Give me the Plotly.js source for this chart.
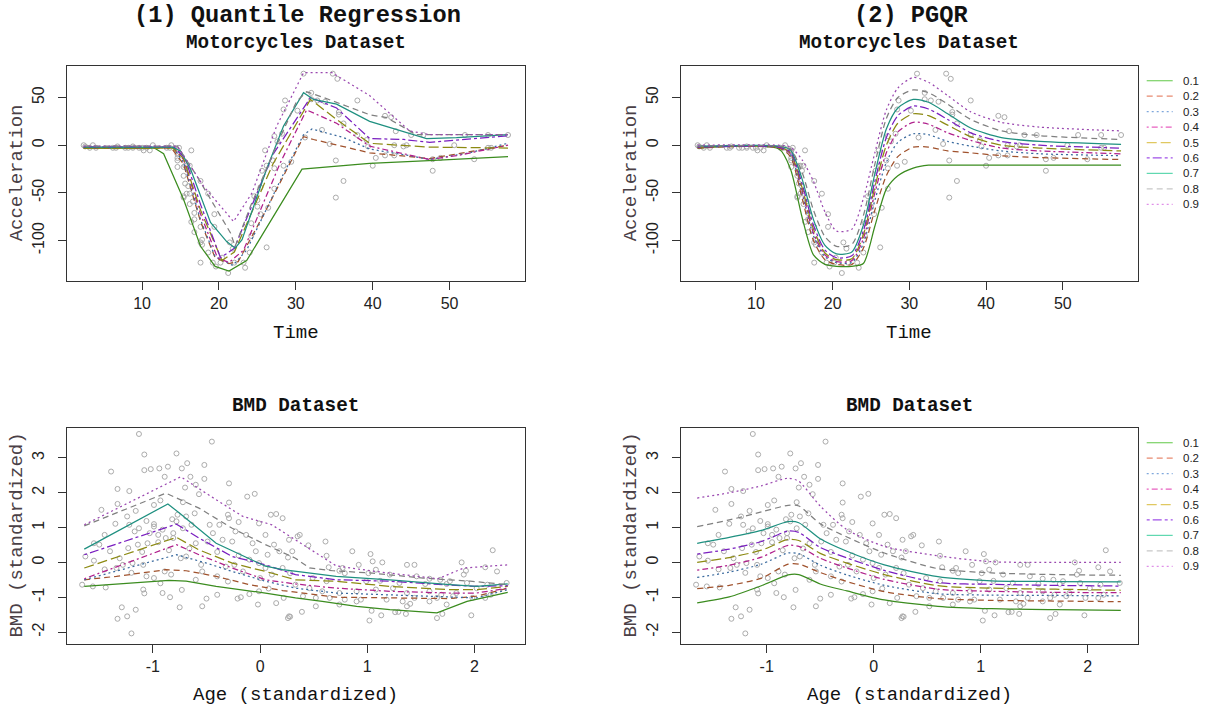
<!DOCTYPE html>
<html><head><meta charset="utf-8">
<script src="https://cdn.plot.ly/plotly-3.0.1.min.js"></script>
<style>html,body{margin:0;padding:0;background:#fff}#chart{width:1212px;height:707px}</style>
</head><body><div id="chart"></div>
<script>
// ---------------- data ----------------
const quantiles = ['0.1','0.2','0.3','0.4','0.5','0.6','0.7','0.8','0.9'];
const lineColors = ['#3b8c1f','#a0522d','#3a6a9e','#b0208c','#8c8a12','#7a1fc0','#1f9080','#808080','#9a48b0'];
const legendColors = ['#7fd36b','#e88a70','#80a8dc','#e860c0','#e0c860','#a050e8','#60d8b0','#c8c8c8','#e090e8'];
const lineDashes = ['solid','6px,4px','2px,3px','2px,3px,6px,3px','10px,4px','3px,3px,9px,3px','solid','6px,4px','2px,3px'];

const mcTime = [2.4,2.6,3.2,3.6,4.0,6.2,6.6,6.8,7.8,8.2,8.8,8.8,9.6,10.0,10.2,10.6,11.0,11.4,13.2,13.6,
13.8,14.6,14.6,14.6,14.6,14.6,14.6,14.8,15.4,15.4,15.4,15.4,15.6,15.6,15.8,15.8,16.0,16.0,16.2,16.2,
16.2,16.4,16.4,16.6,16.8,16.8,16.8,17.6,17.6,17.6,17.6,17.8,17.8,18.6,18.6,19.2,19.4,19.4,19.6,20.2,
20.4,21.2,21.4,21.8,22.0,23.2,23.4,24.0,24.2,24.2,24.6,25.0,25.0,25.4,25.4,25.6,26.0,26.2,26.2,26.4,
27.0,27.2,27.2,27.2,27.6,28.2,28.4,28.4,28.6,29.4,30.2,31.0,31.2,32.0,32.0,32.8,33.4,33.8,34.4,34.8,
35.2,35.2,35.4,35.6,35.6,36.2,36.2,38.0,38.0,39.2,39.4,40.0,40.4,41.6,41.6,42.4,42.8,42.8,43.0,44.0,
44.4,45.0,46.6,47.8,47.8,48.8,50.6,52.0,53.2,55.0,55.0,55.4,57.6];
const mcAccel = [0.0,-1.3,-2.7,0.0,-2.7,-2.7,-2.7,-1.3,-2.7,-2.7,-1.3,-2.7,-2.7,-2.7,-5.4,-2.7,-5.4,0.0,-2.7,-2.7,
0.0,-13.3,-5.4,-5.4,-9.3,-16.0,-22.8,-2.7,-22.8,-32.1,-53.5,-54.9,-40.2,-21.5,-21.5,-50.8,-42.9,-26.8,-21.5,-50.8,
-61.7,-5.4,-80.4,-59.0,-71.0,-91.1,-77.7,-37.5,-85.6,-123.1,-101.9,-99.1,-104.4,-112.5,-50.8,-123.1,-85.6,-72.3,-127.2,-123.1,
-117.9,-134.0,-101.9,-108.4,-123.1,-123.1,-128.5,-112.5,-95.1,-81.8,-53.5,-64.4,-57.6,-72.3,-44.3,-26.8,-5.4,-107.1,-21.5,-65.6,
-16.0,-45.6,-24.2,9.5,4.0,12.0,-21.5,37.5,46.9,-17.4,36.2,75.0,8.1,54.9,48.2,46.9,16.0,45.6,1.3,75.0,
-16.0,-54.9,69.6,34.8,32.1,-37.5,22.8,46.9,10.7,5.4,-1.3,-21.5,-13.3,30.8,-10.7,29.4,0.0,-10.7,14.7,-1.3,
0.0,10.7,10.7,-26.8,-14.7,-13.3,0.0,10.7,-14.7,-2.7,10.7,-2.7,10.7];

const bmdAge = [-1.13,-0.45,-1.08,-0.78,-1.39,-1.08,-1.02,-0.94,-0.86,-0.73,-0.68,-0.52,-0.89,-0.65,-0.52,-1.33,-1.22,-0.70,-0.60,-0.57,
-0.29,-0.12,-0.05,-1.48,-1.33,-0.99,-0.93,-0.72,-0.29,0.10,0.15,0.21,-1.35,-1.24,-1.16,-1.06,-0.99,-0.78,-0.69,-0.29,
-0.20,-0.01,-1.55,-1.45,-1.22,-1.17,-1.13,-1.03,-0.99,-0.81,-0.72,-0.44,-0.38,-0.23,-0.13,0.05,0.13,-1.63,-1.50,-1.40,
-1.31,-1.23,-1.14,-1.05,-0.95,-0.88,-0.81,-0.60,-0.49,-0.35,-0.26,-0.07,-0.04,0.07,0.18,0.26,-1.66,-1.56,-1.44,-1.34,
-1.28,-1.19,-1.09,-1.06,-0.99,-0.89,-0.83,-0.74,-0.69,-0.55,-0.54,-0.40,-0.32,-0.24,-0.16,-0.10,-0.01,0.05,0.11,0.21,
0.28,-1.09,-1.08,-0.91,-0.84,-0.73,-0.50,-0.40,-0.21,-0.18,-0.10,-0.01,0.08,0.22,-1.29,-1.16,-0.75,-0.54,-0.02,0.15,
-1.33,-1.24,-1.20,0.26,0.28,
-0.95,-0.91,-0.82,-0.77,-0.64,-0.61,-0.47,-0.30,-1.10,-0.85,-0.66,-0.40,-0.20,-1.20,-0.60,-0.30,0.00,-1.45,-1.55,-0.93,
0.37,0.35,0.27,0.30,0.45,0.61,0.62,0.86,1.03,1.05,1.14,0.92,1.37,1.44,1.88,2.17,2.21,2.10,1.92,1.90,
0.77,0.74,0.64,0.79,1.01,1.08,1.21,1.46,1.58,1.68,1.77,0.49,0.62,0.99,1.12,1.30,1.54,1.74,1.93,2.02,
2.12,2.30,0.33,0.46,0.58,0.74,0.90,1.08,1.24,1.37,1.58,1.69,1.83,1.98,2.15,0.40,0.52,0.65,0.79,0.94,
1.18,1.33,1.44,1.65,1.80,2.10,0.52,0.74,0.90,1.37,1.40,1.58,1.74,0.27,0.39,1.04,1.13,1.26,1.29,1.36,
1.02,1.65,1.70,1.97];
const bmdValue = [3.69,3.47,3.10,3.13,2.61,2.65,2.68,2.70,2.75,2.70,2.85,2.80,2.46,2.46,2.40,2.11,2.05,2.15,2.23,1.96,
2.27,1.89,1.97,1.51,1.68,1.65,1.78,1.73,1.72,1.37,1.39,1.27,1.11,1.32,1.48,1.19,1.10,1.18,1.32,1.27,
1.16,1.12,0.55,0.79,1.08,0.89,0.98,0.84,1.03,0.84,0.98,0.84,1.08,0.89,0.79,0.79,0.51,0.17,0.51,0.32,
0.12,0.41,0.51,0.55,0.58,0.70,0.70,0.55,0.60,0.65,0.60,0.55,0.32,0.22,0.32,0.14,-0.64,-0.69,-0.72,-0.16,
-0.07,-0.02,-0.07,-0.40,-0.45,-0.26,-0.35,0.12,0.17,-0.07,-0.26,-0.40,-0.12,-0.07,-0.26,0.08,-0.02,-0.16,-0.35,-0.16,
-0.31,-0.78,-0.89,-0.88,-1.00,-0.79,-1.04,-0.93,-1.04,-1.00,-0.91,-0.83,-0.75,-1.02,-1.29,-1.36,-1.29,-1.26,-1.21,-1.17,
-1.62,-1.55,-2.04,-1.60,-1.56,
0.79,0.94,1.24,1.37,1.08,1.41,1.08,1.37,0.30,0.35,0.40,0.30,0.20,-0.30,-0.50,-0.55,-0.45,-0.20,0.05,-0.60,
0.79,0.75,0.65,0.32,0.49,0.60,0.19,0.32,0.24,0.03,0.00,-0.07,-0.07,-0.07,0.00,0.35,-0.26,-0.14,-0.24,-0.35,
-0.16,-0.24,-0.14,-0.31,-0.31,-0.21,-0.35,-0.40,-0.47,-0.50,-0.54,-0.45,-0.54,-0.54,-0.53,-0.59,-0.62,-0.62,-0.59,-0.74,
-0.64,-0.59,-0.64,-0.74,-0.83,-0.88,-0.83,-0.78,-0.74,-0.88,-0.83,-0.93,-0.88,-1.02,-0.93,-0.97,-1.02,-1.02,-1.07,-1.07,
-1.07,-1.12,-1.02,-1.02,-0.97,-1.02,-1.26,-1.21,-1.12,-1.26,-1.19,-1.12,-1.21,-1.55,-1.42,-1.39,-1.52,-1.43,-1.42,-1.48,
-1.67,-1.60,-1.48,-1.52];

// (1) quantile regression fits, motorcycles
const qrMotoX = [
 [2.4,11.6,12.8,15.4,17.6,19.5,21.3,23.6,30.8,39.6,48,57.6],
 [2.4,13.8,15.4,17.6,19.5,21.3,22.5,26,31,32.3,39.6,47.4,57.6],
 [2.4,14,15.4,17.6,19.5,21.8,23.6,28.4,31,32.1,36.2,39.6,44.8,47.4,52.6,57.6],
 [2.4,14,15.4,17.6,19.8,21.3,23.2,28,31.4,35.3,39.6,47.4,50.9,57.6],
 [2.4,14,15.4,17.6,20.4,22,27,31.9,35.3,39.6,47.4,57.6],
 [2.4,14.2,15.6,17.6,20.2,22,27,31.9,35.3,39.6,44,47.4,57.6],
 [2.4,13.9,15,16.3,18.9,21,22.1,23,26.2,28.4,31,32.3,35.3,39.6,47,50.9,57.6],
 [2.4,14.6,17.1,19.7,21.5,22.1,24.1,27.5,30.1,31.4,33.6,39.6,41.8,45.7,57.6],
 [2.4,14.6,16.7,18,21.9,24.3,27.5,31,34.7,39.6,44.8,47.4,57.6]];
const qrMotoY = [
 [-3,-3,-9,-57,-106,-127,-132,-121,-25,-19,-16,-12],
 [-3,-3,-20,-80,-118,-124,-122,-70,9,6,-8,-14,0],
 [-2,-2,-18,-78,-117,-126,-110,-30,11,17,8,-4,-11,-15,-8,2],
 [-2,-2,-15,-72,-118,-123,-110,-18,37,23,-1,-15,-11,0],
 [-3,-3,-14,-68,-121,-112,-20,48,27,2,-2,-3],
 [-2,-2,-14,-62,-118,-108,-10,50,39,7,6,3,10],
 [-2,-2,-6,-25,-81,-101,-108,-99,-25,20,55,48,43,25,7,8,11],
 [-1,-1,-32,-67,-92,-106,-64,0,46,56,50,32,29,11,11],
 [-1,-1,-27,-43,-80,-50,20,76,76,52,15,11,11]];

// (2) PGQR fits, motorcycles
const pgMotoGrid = [2.4,13,14.5,16,17.5,19,20.5,22.5,24,25.5,27,28.5,30.5,32.5,35,38,42,47,57.6];
const pgMotoY = [
 [-3,-4,-25,-75,-115,-125,-127,-127,-124,-85,-46,-32,-24,-21,-21,-21,-21,-21,-21],
 [-3,-3,-12,-55,-100,-120,-125,-125,-108,-68,-32,-12,-2,-2,-6,-8,-11,-13,-15],
 [-2,-2,-10,-50,-95,-117,-123,-123,-103,-58,-18,3,12,11,4,-1,-6,-9,-11],
 [-2,-2,-9,-47,-92,-115,-122,-121,-98,-50,-8,14,24,22,13,5,-3,-6,-9],
 [-2,-2,-8,-44,-88,-113,-120,-119,-94,-44,0,23,33,31,21,9,0,-3,-6],
 [-2,-2,-7,-40,-84,-110,-118,-116,-90,-38,8,31,41,38,27,13,4,0,-3],
 [-1,-1,-5,-35,-78,-105,-114,-112,-84,-30,17,39,48,45,33,18,8,4,1],
 [-1,-1,-4,-28,-68,-96,-106,-104,-74,-20,28,50,58,55,43,27,15,10,6],
 [0,0,-2,-15,-38,-70,-90,-88,-56,-8,37,60,71,66,52,35,24,19,15]];

// (1) quantile regression fits, BMD
const qrBmdX = [
 [-1.64,-1.34,-0.85,-0.69,-0.41,0.05,0.33,0.58,0.9,1.21,1.65,1.93,2.31],
 [-1.64,-1.34,-0.88,-0.69,-0.41,-0.10,0.21,0.71,1.21,1.77,2.02,2.31],
 [-1.64,-0.78,-0.50,-0.26,0.05,0.33,0.71,1.21,1.77,2.02,2.31],
 [-1.64,-0.78,-0.57,-0.26,0.05,0.33,0.71,1.21,1.77,2.02,2.31],
 [-1.64,-0.78,-0.57,-0.26,0.05,0.33,0.71,1.21,1.77,2.02,2.31],
 [-1.64,-0.78,-0.57,-0.26,0.05,0.33,0.71,1.21,1.71,2.02,2.31],
 [-1.64,-0.86,-0.75,-0.41,0.05,0.21,0.71,1.21,1.77,2.02,2.31],
 [-1.64,-0.88,-0.57,-0.26,0.05,0.33,0.46,0.68,1.05,1.52,1.96,2.31],
 [-1.64,-0.74,-0.41,-0.16,0.11,0.33,0.71,1.05,1.37,1.66,1.90,2.31]];
const qrBmdY = [
 [-0.69,-0.62,-0.52,-0.54,-0.69,-0.88,-1.02,-1.12,-1.26,-1.36,-1.45,-1.12,-0.86],
 [-0.50,-0.40,-0.21,-0.24,-0.40,-0.64,-0.81,-1.00,-1.02,-1.04,-0.97,-0.74],
 [-0.50,0.22,-0.02,-0.26,-0.54,-0.74,-0.88,-0.93,-1.00,-1.02,-0.78],
 [-0.47,0.51,0.22,-0.16,-0.50,-0.62,-0.74,-0.83,-0.88,-0.88,-0.74],
 [-0.16,0.72,0.36,-0.02,-0.26,-0.50,-0.54,-0.69,-0.78,-0.78,-0.69],
 [0.22,1.10,0.70,0.17,-0.07,-0.35,-0.50,-0.54,-0.64,-0.69,-0.67],
 [0.38,1.68,1.41,0.55,-0.11,-0.21,-0.40,-0.50,-0.64,-0.69,-0.62],
 [1.05,1.99,1.56,0.98,0.51,0.12,-0.16,-0.24,-0.31,-0.45,-0.54,-0.64],
 [1.08,2.46,1.80,1.32,1.08,0.65,-0.10,-0.25,-0.36,-0.47,-0.16,-0.07]];

// (2) PGQR fits, BMD
const pgBmdGrid = [-1.65,-1.35,-1.05,-0.8,-0.7,-0.5,-0.25,0.1,0.6,1.1,1.7,2.31];
const pgBmdY = [
 [-1.16,-0.99,-0.67,-0.36,-0.35,-0.62,-0.82,-1.08,-1.26,-1.33,-1.36,-1.38],
 [-0.75,-0.66,-0.45,-0.05,-0.05,-0.29,-0.55,-0.84,-1.04,-1.09,-1.11,-1.13],
 [-0.43,-0.28,-0.05,0.27,0.25,-0.08,-0.36,-0.66,-0.90,-0.94,-0.95,-0.96],
 [-0.22,-0.08,0.15,0.49,0.46,0.12,-0.16,-0.49,-0.77,-0.83,-0.86,-0.87],
 [0.0,0.14,0.35,0.66,0.63,0.26,-0.02,-0.35,-0.67,-0.74,-0.77,-0.80],
 [0.24,0.38,0.60,0.90,0.86,0.43,0.13,-0.23,-0.58,-0.63,-0.66,-0.68],
 [0.55,0.72,0.92,1.17,1.14,0.68,0.32,-0.07,-0.41,-0.53,-0.55,-0.56],
 [1.03,1.22,1.45,1.64,1.62,1.11,0.73,0.27,-0.18,-0.30,-0.35,-0.37],
 [1.85,2.00,2.20,2.42,2.33,1.62,0.94,0.46,0.19,0.02,0.0,0.0]];

const motoXTicks = [10,20,30,40,50];
const motoYTicks = [-100,-50,0,50];
const bmdXTicks = [-1,0,1,2];
const bmdYTicks = [-2,-1,0,1,2,3];

// ---------------- layout helpers ----------------
const W = 1212, H = 707;
const PX = v => v / W, PY = v => 1 - v / H;
const MONO = "'Liberation Mono','Courier New',monospace";
const SANS = "'Liberation Sans',Arial,sans-serif";
const colL = [66.7, 525], colR = [680.7, 1138];
const rowT = [65.7, 281], rowB = [427.7, 643.5];

function pointsTrace(x, y, xa, ya) {
  return {type:'scatter', mode:'markers', x:x, y:y, xaxis:xa, yaxis:ya, showlegend:false, hoverinfo:'skip',
    marker:{symbol:'circle-open', size:5, color:'#ababab', line:{width:1, color:'#ababab'}}};
}
function lineTrace(x, y, i, xa, ya, smooth) {
  const ln = {color:lineColors[i], width:1.25, dash:lineDashes[i], shape: smooth ? 'spline' : 'linear'};
  if (smooth) ln.smoothing = 0.7;
  return {type:'scatter', mode:'lines', x:x, y:y, xaxis:xa, yaxis:ya, name:quantiles[i], showlegend:false, line:ln};
}
const traces = [];
traces.push(pointsTrace(mcTime, mcAccel, 'x', 'y'));
quantiles.forEach((q,i) => traces.push(lineTrace(qrMotoX[i], qrMotoY[i], i, 'x', 'y', false)));
traces.push(pointsTrace(mcTime, mcAccel, 'x2', 'y2'));
quantiles.forEach((q,i) => traces.push(lineTrace(pgMotoGrid, pgMotoY[i], i, 'x2', 'y2', true)));
traces.push(pointsTrace(bmdAge, bmdValue, 'x3', 'y3'));
quantiles.forEach((q,i) => traces.push(lineTrace(qrBmdX[i], qrBmdY[i], i, 'x3', 'y3', false)));
traces.push(pointsTrace(bmdAge, bmdValue, 'x4', 'y4'));
quantiles.forEach((q,i) => traces.push(lineTrace(pgBmdGrid, pgBmdY[i], i, 'x4', 'y4', true)));

function axis(range, ticks, dom, anchor, isY) {
  const a = {range:range, domain:dom, anchor:anchor, tickmode:'array', tickvals:ticks, ticktext:ticks.map(String),
    showgrid:false, zeroline:false, showline:true, mirror:true, linecolor:'#333', linewidth:1,
    ticks:'outside', ticklen:8, tickcolor:'#333', tickwidth:1,
    tickfont:{family:SANS, size:16, color:'#222'}, fixedrange:true};
  if (isY) { a.tickangle = -90; a.ticklabelstandoff = 7; }
  return a;
}
const domX = c => [PX(c[0]), PX(c[1])];
const domY = r => [PY(r[1]), PY(r[0])];
const motoXR = [0.192, 59.808], motoYR = [-142.36, 83.36];
const bmdXR = [-1.804, 2.471], bmdYR = [-2.33, 3.87];

const annotations = [];
function ann(text, x, y, size, opts) {
  annotations.push(Object.assign({text:text, x:PX(x), y:PY(y), xref:'paper', yref:'paper', showarrow:false,
    xanchor:'center', yanchor:'middle', font:{family:MONO, size:size, color:'#111'}}, opts || {}));
}
const cL = (colL[0]+colL[1])/2, cR = (colR[0]+colR[1])/2;
ann('<b>(1) Quantile Regression</b>', cL + 2, 15.5, 23.7);
ann('<b>(2) PGQR</b>', cR + 2, 15.5, 23.7);
ann('<b>Motorcycles Dataset</b>', cL, 43.5, 19.3);
ann('<b>Motorcycles Dataset</b>', cR, 43.5, 19.3);
ann('<b>BMD Dataset</b>', cL, 405.5, 19.3);
ann('<b>BMD Dataset</b>', cR, 405.5, 19.3);
ann('Time', cL, 333, 19);
ann('Time', cR, 333, 19);
ann('Age (standardized)', cL, 695, 19);
ann('Age (standardized)', cR, 695, 19);
const yTitleFont = {family:MONO, size:19, color:'#4a4046'};
ann('Acceleration', colL[0]-49.7, (rowT[0]+rowT[1])/2, 19, {textangle:-90, font:yTitleFont});
ann('Acceleration', colR[0]-49.7, (rowT[0]+rowT[1])/2, 19, {textangle:-90, font:yTitleFont});
ann('BMD (standardized)', colL[0]-49.7, (rowB[0]+rowB[1])/2, 19, {textangle:-90, font:yTitleFont});
ann('BMD (standardized)', colR[0]-49.7, (rowB[0]+rowB[1])/2, 19, {textangle:-90, font:yTitleFont});

// legends drawn as keys beside the right-hand panels
const shapes = [];
const legX0 = 1146.7, legX1 = 1172.7, legTextX = 1181, legStep = 15.45;
[rowT[0] + 15, rowB[0] + 15].forEach(top => {
  quantiles.forEach((q, i) => {
    const yy = top + i * legStep;
    shapes.push({type:'line', xref:'paper', yref:'paper', x0:PX(legX0), x1:PX(legX1), y0:PY(yy), y1:PY(yy),
      line:{color:legendColors[i], width:1.25, dash:lineDashes[i]}});
    annotations.push({text:q, x:PX(legTextX), y:PY(yy), xref:'paper', yref:'paper', showarrow:false,
      xanchor:'left', yanchor:'middle', font:{family:SANS, size:11.5, color:'#222'}});
  });
});

const layout = {
  width:W, height:H, autosize:false, margin:{l:0, r:0, t:0, b:0},
  paper_bgcolor:'#fff', plot_bgcolor:'#fff', showlegend:false,
  xaxis: axis(motoXR, motoXTicks, domX(colL), 'y', false),
  yaxis: axis(motoYR, motoYTicks, domY(rowT), 'x', true),
  xaxis2: axis(motoXR, motoXTicks, domX(colR), 'y2', false),
  yaxis2: axis(motoYR, motoYTicks, domY(rowT), 'x2', true),
  xaxis3: axis(bmdXR, bmdXTicks, domX(colL), 'y3', false),
  yaxis3: axis(bmdYR, bmdYTicks, domY(rowB), 'x3', true),
  xaxis4: axis(bmdXR, bmdXTicks, domX(colR), 'y4', false),
  yaxis4: axis(bmdYR, bmdYTicks, domY(rowB), 'x4', true),
  annotations: annotations, shapes: shapes
};
Plotly.newPlot('chart', traces, layout, {staticPlot:true, displayModeBar:false});
</script>
</body></html>
